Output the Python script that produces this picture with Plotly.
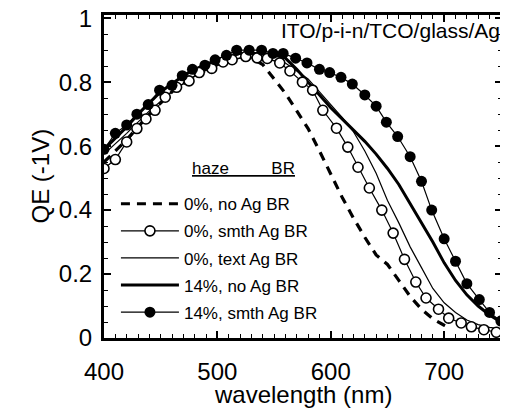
import plotly.graph_objects as go

# 14%, smth Ag BR (filled circles)
fx = [400, 410, 420, 429, 439, 449, 460, 469, 478, 489, 498, 508, 517, 528, 539, 549, 558, 569,
      579, 590, 599, 609, 619, 630, 640, 649, 659, 670, 680, 689, 700, 710, 720, 731, 740, 750]
fy = [0.59, 0.64, 0.666, 0.70, 0.73, 0.775, 0.79, 0.82, 0.84, 0.853, 0.87, 0.884, 0.90, 0.90,
      0.90, 0.89, 0.89, 0.875, 0.86, 0.84, 0.83, 0.815, 0.794, 0.76, 0.725, 0.675, 0.63, 0.567,
      0.49, 0.40, 0.31, 0.24, 0.17, 0.12, 0.08, 0.053]

# 0%, smth Ag BR (open circles)
ox = [400, 410, 420, 429, 437, 445, 454, 464, 475, 484, 495, 505, 513, 525, 535, 544, 555, 564,
      575, 584, 593, 605, 615, 624, 634, 645, 655, 665, 675, 684, 695, 704, 715, 724, 735, 746]
oy = [0.53, 0.558, 0.613, 0.655, 0.685, 0.712, 0.753, 0.784, 0.804, 0.83, 0.843, 0.863, 0.87,
      0.88, 0.876, 0.874, 0.86, 0.835, 0.80, 0.775, 0.712, 0.656, 0.597, 0.534, 0.469, 0.40,
      0.328, 0.246, 0.175, 0.125, 0.09, 0.062, 0.047, 0.035, 0.026, 0.018]

# 0%, no Ag BR (dashed)
dx = [400, 420, 440, 460, 480, 500, 520, 530, 540, 550, 560, 570, 580, 590, 600, 610, 620, 630,
      640, 650, 660, 670, 680, 690, 700, 706]
dy = [0.55, 0.62, 0.70, 0.77, 0.82, 0.855, 0.875, 0.875, 0.855, 0.81, 0.765, 0.71, 0.655, 0.585,
      0.51, 0.44, 0.375, 0.315, 0.26, 0.23, 0.18, 0.13, 0.09, 0.06, 0.04, 0.03]

# 0%, text Ag BR (thin line)
tx = [400, 420, 440, 460, 480, 500, 520, 540, 560, 580, 600, 610, 620, 630, 640, 650, 660, 670,
      680, 690, 700, 710, 720, 730, 740, 750]
ty = [0.575, 0.64, 0.71, 0.77, 0.82, 0.855, 0.875, 0.875, 0.86, 0.81, 0.73, 0.69, 0.645, 0.585,
      0.515, 0.43, 0.36, 0.285, 0.22, 0.155, 0.11, 0.08, 0.056, 0.042, 0.033, 0.028]

# 14%, no Ag BR (thick line)
kx = [400, 410, 420, 430, 440, 450, 460, 470, 480, 490, 500, 510, 520, 530, 540, 550, 560, 570,
      580, 590, 600, 610, 620, 630, 640, 650, 660, 670, 680, 690, 700, 710, 720, 730, 740, 750]
ky = [0.59, 0.625, 0.66, 0.70, 0.735, 0.77, 0.795, 0.82, 0.84, 0.855, 0.87, 0.88, 0.89, 0.89,
      0.89, 0.885, 0.875, 0.84, 0.80, 0.76, 0.72, 0.685, 0.65, 0.615, 0.575, 0.53, 0.48, 0.42,
      0.36, 0.30, 0.235, 0.18, 0.135, 0.10, 0.072, 0.05]

names = ["0%, no Ag BR", "0%, smth Ag BR", "0%, text Ag BR", "14%, no Ag BR", "14%, smth Ag BR"]

x_range = [400, 751]
y_range = [0, 1.01]
x_major = [400, 500, 600, 700]
x_labels = ["400", "500", "600", "700"]
y_major = [0, 0.2, 0.4, 0.6, 0.8, 1]
y_labels = ["0", "0.2", "0.4", "0.6", "0.8", "1"]

FONT = "Arial, Liberation Sans, Helvetica, sans-serif"

fig = go.Figure()
fig.add_trace(go.Scatter(x=dx, y=dy, mode="lines", name=names[0], legendrank=1, legendgroup="a",
                         line=dict(color="black", width=3.2, dash="9px,7px")))
fig.add_trace(go.Scatter(x=tx, y=ty, mode="lines", name=names[2], legendrank=3, legendgroup="c",
                         line=dict(color="black", width=1.2)))
fig.add_trace(go.Scatter(x=kx, y=ky, mode="lines", name=names[3], legendrank=4, legendgroup="d",
                         line=dict(color="black", width=3)))
fig.add_trace(go.Scatter(x=ox, y=oy, mode="lines+markers", name=names[1], legendrank=2,
                         legendgroup="b",
                         line=dict(color="black", width=1.2),
                         marker=dict(symbol="circle", size=10, color="white",
                                     line=dict(color="black", width=1.6))))
fig.add_trace(go.Scatter(x=fx, y=fy, mode="lines+markers", name=names[4], legendrank=5,
                         legendgroup="e",
                         line=dict(color="black", width=1.2),
                         marker=dict(symbol="circle", size=11, color="black")))

fig.update_layout(
    template="simple_white",
    width=500, height=401,
    margin=dict(l=96, r=6, t=7, b=71, autoexpand=False),
    font=dict(family=FONT, color="black"),
    showlegend=True,
    legend=dict(x=0.03, y=0.47, xanchor="left", yanchor="top",
                bgcolor="rgba(0,0,0,0)", font=dict(size=17, family=FONT),
                itemwidth=58, tracegroupgap=2),
    xaxis=dict(range=x_range, showgrid=False, zeroline=False, automargin=False,
               showline=True, linecolor="black", linewidth=3, mirror="allticks",
               ticks="inside", ticklen=7, tickwidth=2, tickcolor="black",
               tickmode="array", tickvals=x_major, ticktext=x_labels,
               minor=dict(dtick=10, ticks="inside", ticklen=4, tickwidth=1, tickcolor="black"),
               tickfont=dict(size=24), ticklabeloverflow="allow", ticklabelstandoff=10),
    yaxis=dict(range=y_range, showgrid=False, zeroline=False, automargin=False,
               showline=True, linecolor="black", linewidth=3, mirror="allticks",
               ticks="inside", ticklen=7, tickwidth=2, tickcolor="black",
               tickmode="array", tickvals=y_major, ticktext=y_labels,
               minor=dict(dtick=0.05, ticks="inside", ticklen=4, tickwidth=1, tickcolor="black"),
               tickfont=dict(size=24), ticklabeloverflow="allow", ticklabelstandoff=4),
)

# axis titles
fig.add_annotation(x=0.5, y=0, xref="paper", yref="paper", xanchor="center", yanchor="middle",
                   yshift=-56, text="wavelength (nm)", showarrow=False,
                   font=dict(size=24, family=FONT))
fig.add_annotation(x=0, y=0.5, xref="paper", yref="paper", xanchor="center", yanchor="middle",
                   xshift=-64, textangle=-90, text="QE (-1V)", showarrow=False,
                   font=dict(size=24, family=FONT))

fig.add_annotation(x=1, y=0.952, xref="paper", yref="paper", xanchor="right", yanchor="middle",
                   text="ITO/p-i-n/TCO/glass/Ag", showarrow=False,
                   font=dict(size=21, family=FONT))
fig.add_annotation(x=0.215, y=0.525, xref="paper", yref="paper", xanchor="left", yanchor="middle",
                   text="<span style='text-decoration:underline'>haze\u2003\u2003\u2002BR</span>",
                   showarrow=False, font=dict(size=17, family=FONT))

fig.write_html("out.html")
